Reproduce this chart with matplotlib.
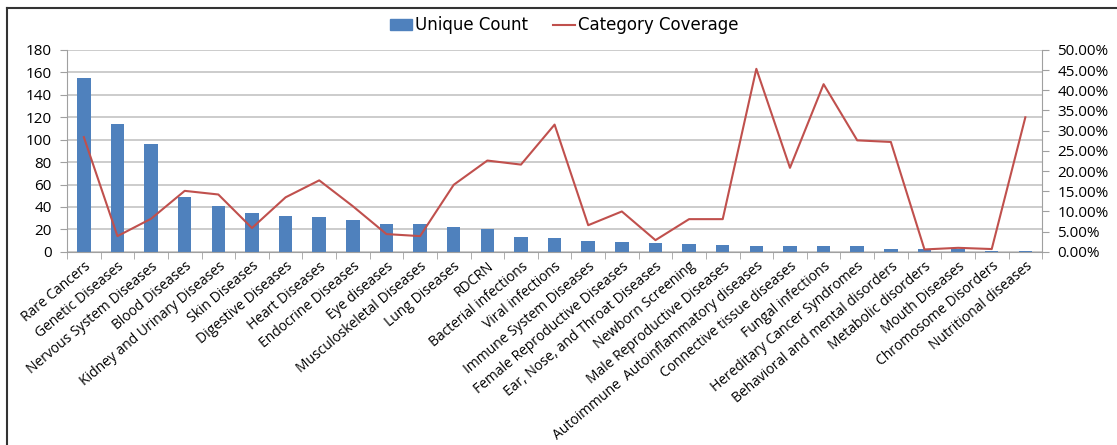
import numpy as np
import matplotlib
matplotlib.use("Agg")
import matplotlib.pyplot as plt
from matplotlib.ticker import FuncFormatter, FixedLocator
from matplotlib.lines import Line2D

categories = [
    "Rare Cancers", "Genetic Diseases", "Nervous System Diseases", "Blood Diseases",
    "Kidney and Urinary Diseases", "Skin Diseases", "Digestive Diseases", "Heart Diseases",
    "Endocrine Diseases", "Eye diseases", "Musculoskeletal Diseases", "Lung Diseases",
    "RDCRN", "Bacterial infections", "Viral infections", "Immune System Diseases",
    "Female Reproductive Diseases", "Ear, Nose, and Throat Diseases", "Newborn Screening",
    "Male Reproductive Diseases", "Autoimmune  Autoinflammatory diseases",
    "Connective tissue diseases", "Fungal infections", "Hereditary Cancer Syndromes",
    "Behavioral and mental disorders", "Metabolic disorders", "Mouth Diseases",
    "Chromosome Disorders", "Nutritional diseases",
]
unique_count = [155, 114, 96, 49, 41, 35, 32, 31, 28, 25, 25, 22, 20, 13, 12,
                10, 9, 8, 7, 6, 5, 5, 5, 5, 3, 3, 3, 1, 1]
coverage = [28.4, 3.9, 8.2, 15.1, 14.2, 5.9, 13.5, 17.7, 11.3, 4.4, 3.9, 16.6,
            22.6, 21.6, 31.5, 6.6, 10.0, 2.9, 8.1, 8.1, 45.3, 20.8, 41.5, 27.6,
            27.2, 0.6, 1.0, 0.7, 33.3]

bar_color = "#4f81bd"
line_color = "#c0504d"
plt.rcParams["font.family"] = ["Open Sans", "DejaVu Sans"]

fig = plt.figure(figsize=(11.17, 4.45), dpi=100)
ax1 = fig.add_axes([0.06, 0.434, 0.873, 0.454])
x = np.arange(len(categories))

ax1.bar(x, unique_count, width=0.4, color=bar_color, zorder=2)
ax1.set_xlim(-0.5, len(categories) - 0.5)
ax1.set_ylim(0, 180)
ax1.set_yticks(np.arange(0, 181, 20))
ax1.yaxis.grid(True, color="#c4c4c4", linewidth=1.2, zorder=0)
ax1.set_axisbelow(True)

ax1.set_xticks(x)
ax1.set_xticklabels(categories, rotation=40, ha="right", rotation_mode="anchor",
                    fontsize=10)
ax1.tick_params(axis="x", length=0, pad=5)
ax1.xaxis.set_minor_locator(FixedLocator(np.arange(-0.5, len(categories), 1)))
ax1.tick_params(axis="x", which="minor", length=5, color="#a0a0a0")
ax1.tick_params(axis="y", labelsize=11, length=5, color="#a0a0a0", pad=6)

for s in ["top", "right"]:
    ax1.spines[s].set_visible(False)
for s in ["left", "bottom"]:
    ax1.spines[s].set_color("#a0a0a0")

ax2 = ax1.twinx()
ax2.plot(x, coverage, color=line_color, linewidth=1.5, zorder=3)
ax2.set_ylim(0, 50)
ax2.set_yticks(np.arange(0, 51, 5))
ax2.yaxis.set_major_formatter(FuncFormatter(lambda v, p: f"{v:.2f}%"))
ax2.tick_params(axis="y", labelsize=11, length=5, color="#a0a0a0", pad=6)
for s in ["top", "left", "bottom"]:
    ax2.spines[s].set_visible(False)
ax2.spines["right"].set_color("#a0a0a0")

handles = [plt.Rectangle((0, 0), 1, 1, color=bar_color),
           Line2D([0], [0], color=line_color, linewidth=1.5)]
fig.legend(handles, ["Unique Count", "Category Coverage"], loc="center",
           bbox_to_anchor=(0.505, 0.943), ncol=2, frameon=False,
           prop={"family": "DejaVu Sans", "size": 12}, handlelength=1.3,
           handletextpad=0.2, columnspacing=1.5)

# chart border (top and left edges visible)
fig.add_artist(Line2D([0.006, 1.0], [0.981, 0.981], color="#333333", linewidth=1.5,
                      transform=fig.transFigure))
fig.add_artist(Line2D([0.006, 0.006], [0.981, 0.0], color="#333333", linewidth=1.5,
                      transform=fig.transFigure))

fig.savefig("out.png", dpi=100)
